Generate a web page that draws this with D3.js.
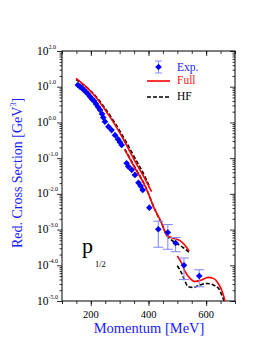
<!DOCTYPE html>
<html>
<head>
<meta charset="utf-8">
<script src="https://cdn.jsdelivr.net/npm/d3@7"></script>
<style>
  body { margin: 0; background: #fff; }
  svg { display: block; font-family: "Liberation Serif", "Times New Roman", serif; }
</style>
</head>
<body>
<div id="chart"></div>
<script>
// Experimental points (momentum in MeV, reduced cross section in GeV^3)
const expMomentum = [155, 162, 169, 176, 183, 190, 197, 204, 211, 218, 225, 232, 239, 243, 249,
  261, 272, 284, 294, 301, 307, 324, 330, 342, 353, 365, 373, 380, 403, 434, 467, 494, 523, 576];
const expValue = [11.2, 10.1, 9.2, 8.1, 7.1, 6.25, 5.3, 4.5, 4.0, 3.3, 2.7, 2.23, 1.72, 1.37, 1.05,
  0.76, 0.61, 0.44, 0.34, 0.28, 0.233, 0.072, 0.058, 0.047, 0.034, 0.0205, 0.0166, 0.0128, 0.0041,
  1.02e-3, 8.3e-4, 4.2e-4, 1.0e-4, 5.0e-5];
const expError = [0, 0, 0, 0, 0, 0, 0, 0, 0, 0, 0, 0, 0, 0, 0,
  0, 0, 0, 0, 0, 0, 0, 0, 0, 0, 0, 0, 0, 0,
  0.7e-3, 0.55e-3, 0.18e-3, 0.6e-4, 0.25e-4];

// Full calculation, three kinematic pieces
const fullMomentum = [
  [149, 180, 214, 249, 284, 318, 353, 388, 411],
  [318, 353, 388, 423, 446, 463, 486, 509, 532, 541],
  [500, 515, 527, 544, 561, 584, 607, 625, 642, 654, 665, 675]
];
const fullValue = [
  [17.2, 10.5, 5.5, 2.3, 0.85, 0.283, 0.083, 0.026, 0.0115],
  [0.169, 0.053, 0.0166, 3.5e-3, 1.5e-3, 7.0e-4, 5.7e-4, 4.9e-4, 3.2e-4, 2.5e-4],
  [1.82e-4, 1.14e-4, 6.6e-5, 4.3e-5, 3.5e-5, 3.9e-5, 4.6e-5, 4.3e-5, 3.1e-5, 2.0e-5, 1.02e-5, 4e-6]
];

// Hartree-Fock calculation
const hfMomentum = [
  [149, 180, 214, 249, 284, 318, 353, 388, 405],
  [318, 353, 388, 423, 446, 463, 480, 498, 521, 541],
  [500, 515, 527, 538, 555, 579, 602, 625, 642, 654, 662, 672]
];
const hfValue = [
  [15.9, 10.5, 5.8, 2.5, 0.95, 0.33, 0.10, 0.030, 0.015],
  [0.18, 0.055, 0.017, 3.5e-3, 1.45e-3, 7.0e-4, 5.1e-4, 4.1e-4, 3.1e-4, 2.3e-4],
  [9.7e-5, 6.0e-5, 3.5e-5, 2.5e-5, 2.4e-5, 2.8e-5, 3.1e-5, 2.8e-5, 2.3e-5, 1.47e-5, 1.0e-5, 4e-6]
];

const xTickLabels = [200, 400, 600];
const yExponents = [2, 1, 0, -1, -2, -3, -4, -5];

const W = 257, H = 345;
const mLeft = 62, mRight = 235, mTop = 51, mBottom = 301;
const blue = "#1a1aff", errBlue = "#8a8aff";

const svg = d3.select("#chart").append("svg").attr("width", W).attr("height", H);

const x = d3.scaleLinear().domain([100, 700]).range([mLeft, mRight]);
const y = d3.scaleLog().domain([1e-5, 1e2]).range([mBottom, mTop]);

svg.append("clipPath").attr("id", "clip")
  .append("rect").attr("x", mLeft).attr("y", mTop).attr("width", mRight - mLeft).attr("height", mBottom - mTop);

// minor log ticks
const yMinor = [];
for (let k = -5; k < 2; k++) for (let m = 2; m <= 9; m++) yMinor.push(m * Math.pow(10, k));
const yMajor = yExponents.map(e => Math.pow(10, e));
const xMinor = d3.range(100, 701, 50);

function styleAxis(g) {
  g.select(".domain").remove();
  g.selectAll("line").attr("stroke", "#000").attr("stroke-width", 0.8);
}

svg.append("g").attr("transform", `translate(${mLeft},0)`)
  .call(d3.axisLeft(y).tickValues(yMajor).tickSize(5).tickFormat("")).call(styleAxis);
svg.append("g").attr("transform", `translate(${mLeft},0)`)
  .call(d3.axisLeft(y).tickValues(yMinor).tickSize(2.5).tickFormat("")).call(styleAxis);
svg.append("g").attr("transform", `translate(${mRight},0)`)
  .call(d3.axisLeft(y).tickValues(yMajor).tickSize(5).tickFormat("")).call(styleAxis);
svg.append("g").attr("transform", `translate(${mRight},0)`)
  .call(d3.axisLeft(y).tickValues(yMinor).tickSize(2.5).tickFormat("")).call(styleAxis);

svg.append("g").attr("transform", `translate(0,${mBottom})`)
  .call(d3.axisBottom(x).tickValues(xMinor.filter(v => v % 200 == 0)).tickSize(5).tickFormat("")).call(styleAxis);
svg.append("g").attr("transform", `translate(0,${mBottom})`)
  .call(d3.axisBottom(x).tickValues(xMinor).tickSize(3).tickFormat("")).call(styleAxis);
svg.append("g").attr("transform", `translate(0,${mTop})`)
  .call(d3.axisBottom(x).tickValues(xMinor.filter(v => v % 200 == 0)).tickSize(5).tickFormat("")).call(styleAxis);
svg.append("g").attr("transform", `translate(0,${mTop})`)
  .call(d3.axisBottom(x).tickValues(xMinor).tickSize(3).tickFormat("")).call(styleAxis);

svg.append("rect").attr("x", mLeft).attr("y", mTop).attr("width", mRight - mLeft).attr("height", mBottom - mTop)
  .attr("fill", "none").attr("stroke", "#000").attr("stroke-width", 1);

// y tick labels: 10^k.0
yExponents.forEach(e => {
  svg.append("text").attr("x", 48.5).attr("y", y(Math.pow(10, e)) + 3.5)
    .attr("font-size", 11.5).attr("text-anchor", "end").text("10");
  svg.append("text").attr("x", 48.5).attr("y", y(Math.pow(10, e)) - 2.5)
    .attr("font-size", 6).text(e.toFixed(1));
});

xTickLabels.forEach(v => {
  svg.append("text").attr("x", x(v)).attr("y", 318).attr("font-size", 10.5)
    .attr("text-anchor", "middle").text(v);
});

// axis titles
svg.append("text").attr("x", 149).attr("y", 333).attr("font-size", 14.5)
  .attr("text-anchor", "middle").attr("fill", blue).text("Momentum [MeV]");

const yl = svg.append("text").attr("transform", "translate(22,173) rotate(-90)")
  .attr("font-size", 14).attr("text-anchor", "middle").attr("fill", blue);
yl.append("tspan").text("Red. Cross Section [GeV");
yl.append("tspan").attr("font-size", 8).attr("dy", -6).text("3");
yl.append("tspan").attr("dy", 6).text("]");

// curves
const plot = svg.append("g").attr("clip-path", "url(#clip)");
const line = d3.line().x(d => x(d[0])).y(d => y(d[1])).curve(d3.curveMonotoneX);

hfMomentum.forEach((ps, i) => {
  plot.append("path").datum(ps.map((p, j) => [p, hfValue[i][j]]))
    .attr("d", line).attr("fill", "none").attr("stroke", "#000")
    .attr("stroke-width", 1.6).attr("stroke-dasharray", "4,2");
});
fullMomentum.forEach((ps, i) => {
  plot.append("path").datum(ps.map((p, j) => [p, fullValue[i][j]]))
    .attr("d", line).attr("fill", "none").attr("stroke", "#ff0000").attr("stroke-width", 1.6);
});

// experimental points with error bars
const expData = expMomentum.map((p, i) => ({p, v: expValue[i], e: expError[i]}));
const bars = plot.selectAll("g.err").data(expData.filter(d => d.e > 0)).join("g").attr("class", "err")
  .attr("stroke", errBlue).attr("stroke-width", 1.1);
bars.append("line").attr("x1", d => x(d.p)).attr("x2", d => x(d.p))
  .attr("y1", d => y(d.v + d.e)).attr("y2", d => y(Math.max(d.v - d.e, 1e-7)));
bars.append("line").attr("x1", d => x(d.p) - 5).attr("x2", d => x(d.p) + 5)
  .attr("y1", d => y(d.v + d.e)).attr("y2", d => y(d.v + d.e));
bars.append("line").attr("x1", d => x(d.p) - 5).attr("x2", d => x(d.p) + 5)
  .attr("y1", d => y(d.v - d.e)).attr("y2", d => y(d.v - d.e));

const diamond = d3.symbol(d3.symbolSquare, 22);
plot.selectAll("path.pt").data(expData).join("path").attr("class", "pt")
  .attr("d", diamond).attr("fill", "#0000ff")
  .attr("transform", d => `translate(${x(d.p)},${y(d.v)}) rotate(45)`);

// legend
const lg = svg.append("g");
lg.append("line").attr("x1", 158.5).attr("x2", 158.5).attr("y1", 61).attr("y2", 73).attr("stroke", errBlue);
lg.append("line").attr("x1", 155).attr("x2", 162).attr("y1", 61).attr("y2", 61).attr("stroke", errBlue);
lg.append("line").attr("x1", 155).attr("x2", 162).attr("y1", 73).attr("y2", 73).attr("stroke", errBlue);
lg.append("path").attr("d", diamond).attr("fill", "#0000ff").attr("transform", "translate(158.5,67) rotate(45)");
lg.append("text").attr("x", 177).attr("y", 71).attr("font-size", 11.5).attr("fill", blue).text("Exp.");
lg.append("line").attr("x1", 147).attr("x2", 170).attr("y1", 81).attr("y2", 81)
  .attr("stroke", "#ff0000").attr("stroke-width", 1.6);
lg.append("text").attr("x", 177).attr("y", 84).attr("font-size", 11.5).attr("fill", "#ff2020").text("Full");
lg.append("line").attr("x1", 147).attr("x2", 170).attr("y1", 97).attr("y2", 97)
  .attr("stroke", "#000").attr("stroke-width", 1.6).attr("stroke-dasharray", "4,2");
lg.append("text").attr("x", 177).attr("y", 99.5).attr("font-size", 11.5).text("HF");

// orbital label
svg.append("text").attr("x", 82).attr("y", 253).attr("font-size", 22).text("p");
svg.append("text").attr("x", 95).attr("y", 267).attr("font-size", 8.5).text("1/2");
</script>
</body>
</html>
